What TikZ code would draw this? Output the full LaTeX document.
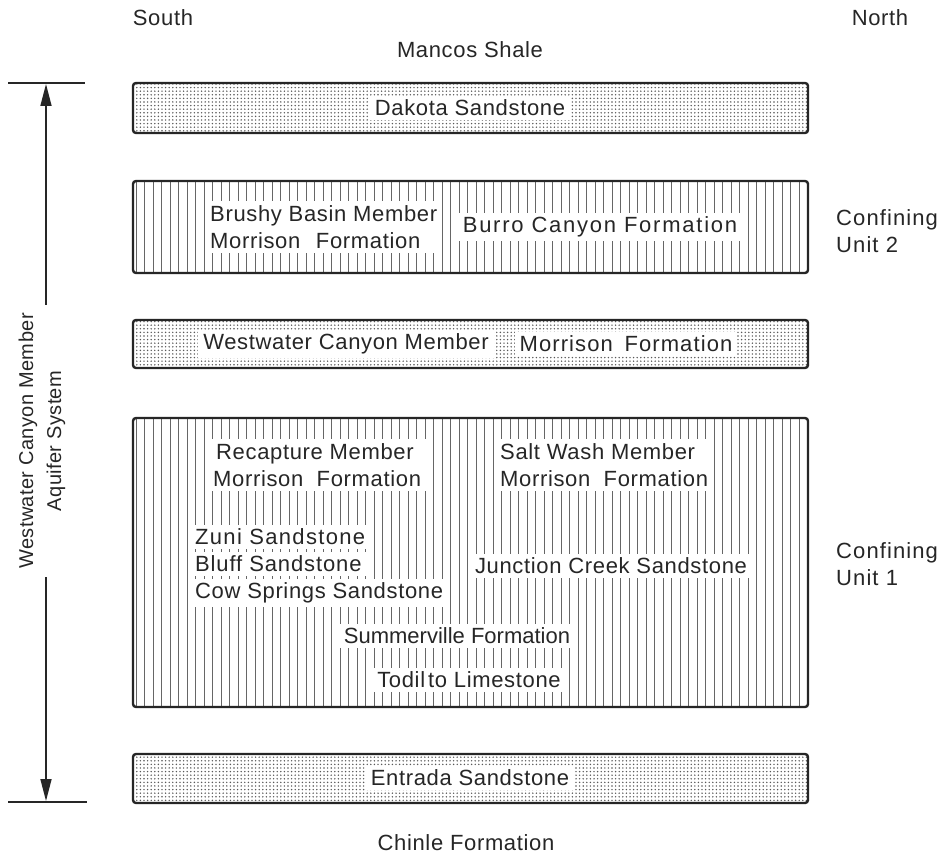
\documentclass[tikz,border=0pt]{standalone}
\usepackage{fontspec}
\setmainfont{Liberation Sans}
\usetikzlibrary{patterns.meta,arrows.meta}
\begin{document}
\begin{tikzpicture}[x=1pt,y=-1pt,
  lbl/.style={font=\fontsize{22}{27}\selectfont\addfontfeature{LetterSpace=3}, text=black!85, inner sep=0pt},
  ls/.style={font=\fontsize{22}{27}\selectfont\addfontfeature{LetterSpace=#1}},
  wlbl/.style={lbl, fill=white, inner xsep=5pt, inner ysep=4pt},
  dotbox/.style={draw=black!85, line width=2.4pt, rounded corners=3pt, minimum width=675pt,
    pattern={Dots[distance=3.6pt, radius=0.8pt]}, pattern color=black!65, inner sep=0pt},
  hatchbox/.style={draw=black!85, line width=2.4pt, rounded corners=3pt, minimum width=675pt,
    pattern={Lines[angle=90, distance=8.5pt, line width=0.7pt]}, pattern color=black!60, inner sep=0pt},
  tick/.style={line width=2pt, draw=black!85},
  dimline/.style={line width=1.6pt, draw=black!85, {Triangle[length=22pt,width=11pt]}-{Triangle[length=22pt,width=11pt]}}
]
\useasboundingbox[fill=white] (0,0) rectangle (947,858);

% boxes
\node[dotbox, minimum height=50pt] (dakota) at (470.5,108) {};
\node[hatchbox, minimum height=92pt] (cu2) at (470.5,227) {};
\node[dotbox, minimum height=48pt] (westwater) at (470.5,344) {};
\node[hatchbox, minimum height=289pt] (cu1) at (470.5,562.5) {};
\node[dotbox, minimum height=49pt] (entrada) at (470.5,778.5) {};

% arrow and ticks
\coordinate (tl) at (8,83); \coordinate (tr) at (85,83);
\coordinate (bl) at (8,802); \coordinate (br) at (87,802);
\coordinate (at) at (46,84); \coordinate (ab) at (46,801);
\draw[tick] (tl) -- (tr);
\draw[tick] (bl) -- (br);
\draw[dimline] (at) -- (ab);
\node[lbl, fill=white, inner xsep=8pt, inner ysep=2pt, rotate=90, align=center,
  font=\fontsize{20}{28}\selectfont\addfontfeature{LetterSpace=2}] (aq) at (42,441) {Westwater Canyon Member\\Aquifer System};

% outside labels
\node[lbl] (south) at (163,18) {South};
\node[lbl] (north) at (880,18) {North};
\node[lbl] (mancos) at (470,50) {Mancos Shale};
\node[lbl] (chinle) at (466,843) {Chinle Formation};
\node[lbl, ls=5, align=left, anchor=west] (cu2l) at (836,231) {Confining\\Unit 2};
\node[lbl, ls=5, align=left, anchor=west] (cu1l) at (836,564) {Confining\\Unit 1};

% labels inside boxes
\node[wlbl] (dakotal) at (470,108) {Dakota Sandstone};
\node[wlbl, align=left, anchor=west] (brushy) at (205,227) {Brushy Basin Member\\Morrison\hspace{0.4em} Formation};
\node[wlbl, ls=8] (burro) at (600,227) {Burro Canyon Formation};
\node[wlbl, ls=3] (wwl) at (346,344) {Westwater Canyon Member};
\node[wlbl, ls=5] (wwm) at (626,344) {Morrison\hspace{0.2em} Formation};
\node[wlbl, align=left, anchor=west] (recap) at (208,465) {\hspace{3pt}Recapture Member\\Morrison\hspace{0.3em} Formation};
\node[wlbl, align=left, anchor=west] (salt) at (495,465) {Salt Wash Member\\Morrison\hspace{0.3em} Formation};
\node[wlbl, ls=6, anchor=west] (zuni) at (190,537) {Zuni Sandstone};
\node[wlbl, ls=4, anchor=west] (bluff) at (190,564) {Bluff Sandstone};
\node[wlbl, anchor=west] (cow) at (190,593) {Cow Springs Sandstone};
\node[wlbl] (junction) at (611,566) {Junction Creek Sandstone};
\node[wlbl, ls=0] (summer) at (457,636) {Summerville Formation};
\node[wlbl] (todilto) at (469,680) {Todil\kern3pt to Limestone};
\node[wlbl] (entradal) at (470,778) {Entrada Sandstone};
\end{tikzpicture}
\end{document}
